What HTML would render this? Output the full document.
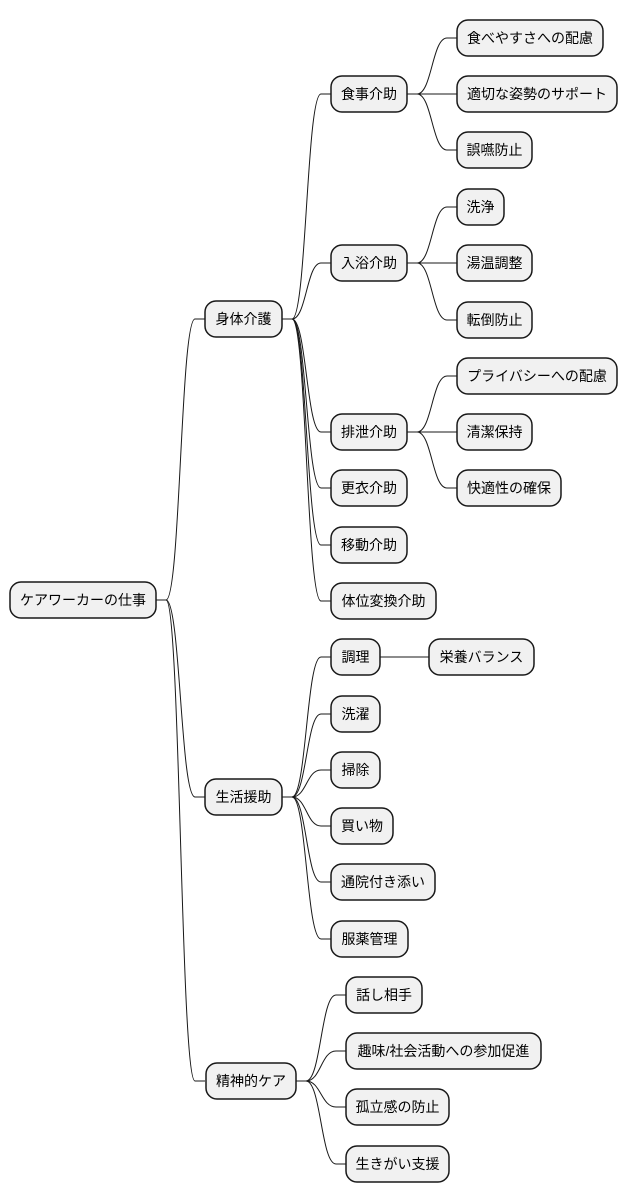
<!DOCTYPE html>
<html><head><meta charset="utf-8"><style>
html,body{margin:0;padding:0;background:#fff;}
svg{display:block;}
text{font-family:"Liberation Sans","Noto Sans CJK JP",sans-serif;font-size:14px;fill:#000;text-anchor:middle;}
rect{fill:#f1f1f1;stroke:#181818;stroke-width:1.5;}
path{fill:none;stroke:#181818;stroke-width:1;}
</style></head><body>
<svg width="628" height="1203" viewBox="0 0 628 1203" xmlns="http://www.w3.org/2000/svg">
<!-- connectors root -->
<path d="M156,600 H166 C180.5,600 180.5,319 195,319 H205"/>
<path d="M156,600 H166 C180.5,600 180.5,797 195,797 H205"/>
<path d="M156,600 H166 C180.5,600 180.5,1081 195,1081 H205"/>
<!-- 身体介護 -->
<path d="M282,319 H292 C306.5,319 306.5,94 321,94 H331"/>
<path d="M282,319 H292 C306.5,319 306.5,263 321,263 H331"/>
<path d="M282,319 H292 C306.5,319 306.5,432 321,432 H331"/>
<path d="M282,319 H292 C306.5,319 306.5,488 321,488 H331"/>
<path d="M282,319 H292 C306.5,319 306.5,545 321,545 H331"/>
<path d="M282,319 H292 C306.5,319 306.5,601 321,601 H331"/>
<!-- 生活援助 -->
<path d="M282,797 H292 C306.5,797 306.5,657 321,657 H331"/>
<path d="M282,797 H292 C306.5,797 306.5,714 321,714 H331"/>
<path d="M282,797 H292 C306.5,797 306.5,770 321,770 H331"/>
<path d="M282,797 H292 C306.5,797 306.5,826 321,826 H331"/>
<path d="M282,797 H292 C306.5,797 306.5,882 321,882 H331"/>
<path d="M282,797 H292 C306.5,797 306.5,939 321,939 H331"/>
<!-- 精神的ケア -->
<path d="M296,1081 H306 C321,1081 321,995 336,995 H346"/>
<path d="M296,1081 H306 C321,1081 321,1051 336,1051 H346"/>
<path d="M296,1081 H306 C321,1081 321,1107 336,1107 H346"/>
<path d="M296,1081 H306 C321,1081 321,1164 336,1164 H346"/>
<!-- 食事介助 -->
<path d="M407,94 H417 C432,94 432,38 447,38 H457"/>
<path d="M407,94 H457"/>
<path d="M407,94 H417 C432,94 432,150 447,150 H457"/>
<!-- 入浴介助 -->
<path d="M407,263 H417 C432,263 432,207 447,207 H457"/>
<path d="M407,263 H457"/>
<path d="M407,263 H417 C432,263 432,320 447,320 H457"/>
<!-- 排泄介助 -->
<path d="M407,432 H417 C432,432 432,376 447,376 H457"/>
<path d="M407,432 H457"/>
<path d="M407,432 H417 C432,432 432,488 447,488 H457"/>
<!-- 調理 -->
<path d="M380,657 H429"/>

<!-- nodes -->
<rect x="10" y="582" width="146" height="36" rx="11"/><text x="83" y="605">ケアワーカーの仕事</text>
<rect x="205" y="301" width="77" height="36" rx="11"/><text x="243.5" y="324">身体介護</text>
<rect x="205" y="779" width="77" height="36" rx="11"/><text x="243.5" y="802">生活援助</text>
<rect x="206" y="1063" width="90" height="36" rx="11"/><text x="251" y="1086">精神的ケア</text>

<rect x="331" y="76" width="76" height="36" rx="11"/><text x="369" y="99">食事介助</text>
<rect x="331" y="245" width="76" height="36" rx="11"/><text x="369" y="268">入浴介助</text>
<rect x="331" y="414" width="76" height="36" rx="11"/><text x="369" y="437">排泄介助</text>
<rect x="331" y="470" width="76" height="36" rx="11"/><text x="369" y="493">更衣介助</text>
<rect x="331" y="527" width="76" height="36" rx="11"/><text x="369" y="550">移動介助</text>
<rect x="331" y="583" width="105" height="36" rx="11"/><text x="383.5" y="606">体位変換介助</text>

<rect x="331" y="639" width="49" height="36" rx="11"/><text x="355.5" y="662">調理</text>
<rect x="331" y="696" width="49" height="36" rx="11"/><text x="355.5" y="719">洗濯</text>
<rect x="331" y="752" width="49" height="36" rx="11"/><text x="355.5" y="775">掃除</text>
<rect x="331" y="808" width="62" height="36" rx="11"/><text x="362" y="831">買い物</text>
<rect x="331" y="864" width="104" height="36" rx="11"/><text x="383" y="887">通院付き添い</text>
<rect x="331" y="921" width="77" height="36" rx="11"/><text x="369.5" y="944">服薬管理</text>

<rect x="346" y="977" width="76" height="36" rx="11"/><text x="384" y="1000">話し相手</text>
<rect x="346" y="1033" width="195" height="36" rx="11"/><text x="443.5" y="1056">趣味/社会活動への参加促進</text>
<rect x="346" y="1089" width="103" height="36" rx="11"/><text x="397.5" y="1112">孤立感の防止</text>
<rect x="346" y="1146" width="103" height="36" rx="11"/><text x="397.5" y="1169">生きがい支援</text>

<rect x="457" y="20" width="146" height="36" rx="11"/><text x="530" y="43">食べやすさへの配慮</text>
<rect x="457" y="76" width="160" height="36" rx="11"/><text x="537" y="99">適切な姿勢のサポート</text>
<rect x="457" y="132" width="75" height="36" rx="11"/><text x="494.5" y="155">誤嚥防止</text>
<rect x="457" y="189" width="47" height="36" rx="11"/><text x="480.5" y="212">洗浄</text>
<rect x="457" y="245" width="75" height="36" rx="11"/><text x="494.5" y="268">湯温調整</text>
<rect x="457" y="302" width="75" height="36" rx="11"/><text x="494.5" y="325">転倒防止</text>
<rect x="457" y="358" width="160" height="36" rx="11"/><text x="537" y="381">プライバシーへの配慮</text>
<rect x="457" y="414" width="75" height="36" rx="11"/><text x="494.5" y="437">清潔保持</text>
<rect x="457" y="470" width="104" height="36" rx="11"/><text x="509" y="493">快適性の確保</text>
<rect x="429" y="639" width="105" height="36" rx="11"/><text x="481.5" y="662">栄養バランス</text>
</svg>
</body></html>
